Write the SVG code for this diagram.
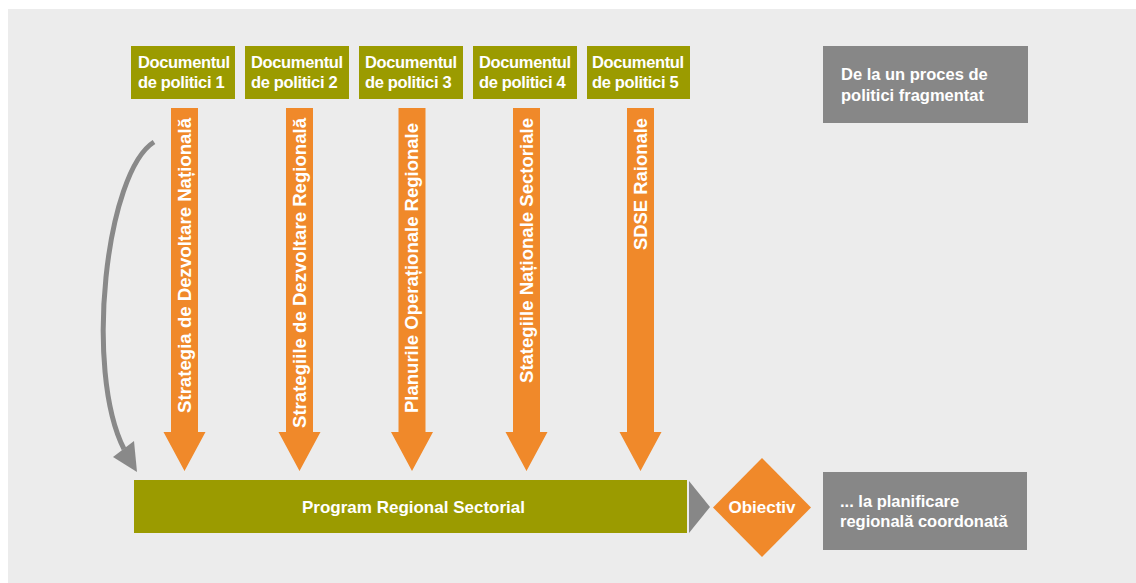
<svg xmlns="http://www.w3.org/2000/svg" width="1136" height="583" viewBox="0 0 1136 583">
<style>
.bg{fill:#ececec}
.doc{fill:#9b9b00}
.gbox{fill:#878787}
.arr{fill:#f0892a}
.t{font-family:"Liberation Sans",Arial,sans-serif;font-weight:bold;fill:#ffffff}
.dt{font-size:16.5px;letter-spacing:-0.35px}
.gt{font-size:16.5px}
.at{font-size:17.5px}
</style>
<defs>
<polygon id="arrowShape" points="-13.5,0 13.5,0 13.5,324 21,324 0,363 -21,324 -13.5,324"/>
</defs>
<rect class="bg" x="8" y="9" width="1128" height="574"/>

<g id="doc1"><rect class="doc" x="131" y="46" width="104" height="53"/><text class="t dt" x="138" y="68">Documentul</text><text class="t dt" x="138" y="88">de politici 1</text></g>
<g id="doc2"><rect class="doc" x="245" y="46" width="104" height="53"/><text class="t dt" x="251" y="68">Documentul</text><text class="t dt" x="251" y="88">de politici 2</text></g>
<g id="doc3"><rect class="doc" x="359" y="46" width="104" height="53"/><text class="t dt" x="365" y="68">Documentul</text><text class="t dt" x="365" y="88">de politici 3</text></g>
<g id="doc4"><rect class="doc" x="473" y="46" width="104" height="53"/><text class="t dt" x="479" y="68">Documentul</text><text class="t dt" x="479" y="88">de politici 4</text></g>
<g id="doc5"><rect class="doc" x="587" y="46" width="103" height="53"/><text class="t dt" x="592" y="68">Documentul</text><text class="t dt" x="592" y="88">de politici 5</text></g>

<g id="fragmented"><rect class="gbox" x="823" y="46" width="205" height="77"/><text class="t gt" x="841" y="80">De la un proces de</text><text class="t gt" x="841" y="100.5">politici fragmentat</text></g>

<g id="arrow1"><use href="#arrowShape" class="arr" transform="translate(184.5,108)"/><text class="t at" transform="translate(190.5,118) rotate(-90)" text-anchor="end" textLength="295" lengthAdjust="spacingAndGlyphs">Strategia de Dezvoltare Națională</text></g>
<g id="arrow2"><use href="#arrowShape" class="arr" transform="translate(299.5,108)"/><text class="t at" transform="translate(305.5,118) rotate(-90)" text-anchor="end" textLength="310" lengthAdjust="spacingAndGlyphs">Strategiile de Dezvoltare Regională</text></g>
<g id="arrow3"><use href="#arrowShape" class="arr" transform="translate(412,108)"/><text class="t at" transform="translate(418,123) rotate(-90)" text-anchor="end" textLength="290" lengthAdjust="spacingAndGlyphs">Planurile Operaționale Regionale</text></g>
<g id="arrow4"><use href="#arrowShape" class="arr" transform="translate(526.5,108)"/><text class="t at" transform="translate(532.5,118) rotate(-90)" text-anchor="end" textLength="265" lengthAdjust="spacingAndGlyphs">Stategiile Naționale Sectoriale</text></g>
<g id="arrow5"><use href="#arrowShape" class="arr" transform="translate(640.5,108)"/><text class="t at" transform="translate(646.5,118) rotate(-90)" text-anchor="end" textLength="132" lengthAdjust="spacingAndGlyphs">SDSE Raionale</text></g>

<g id="program"><rect class="doc" x="134" y="480" width="553" height="53"/><text class="t" x="413.5" y="512.5" font-size="17" text-anchor="middle">Program Regional Sectorial</text></g>

<g id="objective"><polygon class="arr" points="762,458 811,507.5 762,557 713,507.5"/><text class="t" x="762" y="513" font-size="17" text-anchor="middle">Obiectiv</text></g>

<g id="coordinated"><rect class="gbox" x="823" y="472" width="204" height="78"/><text class="t gt" x="840" y="506.5">... la planificare</text><text class="t gt" x="840" y="527">regională coordonată</text></g>

<g id="connectors">
<path d="M154,142 C106,172 84,370 124,449" fill="none" stroke="#898989" stroke-width="5"/>
<polygon points="137,472 113,457 134,441" fill="#898989"/>
<polygon points="689,481 710,507 689,533" fill="#878787"/>
</g>
</svg>
